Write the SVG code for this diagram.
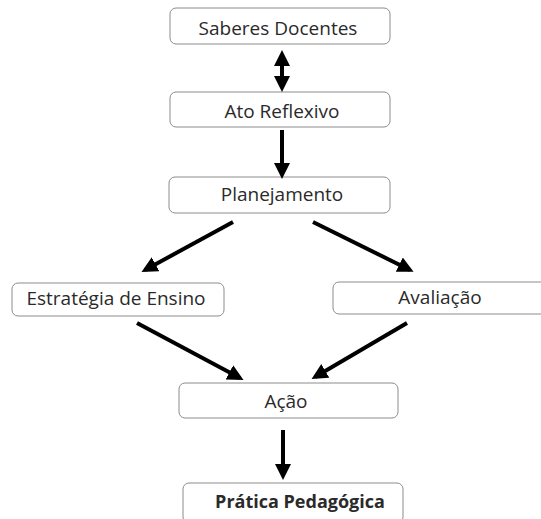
<svg xmlns="http://www.w3.org/2000/svg" width="541" height="519" viewBox="0 0 541 519">
<style>
.box{fill:#fff;stroke:#8c8c8c;stroke-width:1}
.t{font-family:"Open Sans","Liberation Sans",sans-serif;font-size:19px;fill:#2a2a2a;text-anchor:middle}
.b{font-weight:bold;font-size:18px}
.c{stroke:#000;stroke-width:4;fill:none;marker-end:url(#ah)}
</style>
<defs>
<marker id="ah" markerWidth="4" markerHeight="4" refX="3" refY="2" orient="auto" markerUnits="strokeWidth"><path d="M0,0 L4,2 L0,4 Z" fill="#000"/></marker>
<marker id="as" markerWidth="4" markerHeight="4" refX="1" refY="2" orient="auto" markerUnits="strokeWidth"><path d="M4,0 L0,2 L4,4 Z" fill="#000"/></marker>
</defs>
<rect width="541" height="519" fill="#fff"/>
<g id="n1"><rect class="box" x="170" y="8" width="220" height="36" rx="6"/><text class="t" x="278" y="35">Saberes Docentes</text></g>
<g id="n2"><rect class="box" x="170" y="92" width="220" height="35" rx="6"/><text class="t" x="282" y="118">Ato Reflexivo</text></g>
<g id="n3"><rect class="box" x="169" y="177" width="221" height="36" rx="6"/><text class="t" x="282" y="201">Planejamento</text></g>
<g id="n4"><rect class="box" x="12" y="283" width="212" height="33" rx="6"/><text class="t" x="116" y="305">Estratégia de Ensino</text></g>
<g id="n5"><rect class="box" x="333" y="282" width="215" height="32" rx="6"/><text class="t" x="440" y="304">Avaliação</text></g>
<g id="n6"><rect class="box" x="179" y="383" width="219" height="35" rx="6"/><text class="t" x="286" y="408">Ação</text></g>
<g id="n7"><rect class="box" x="183" y="483" width="220" height="40" rx="6"/><text class="t b" x="300" y="508">Prática Pedagógica</text></g>
<g id="connectors">
<line class="c" x1="282" y1="54" x2="282" y2="88" marker-start="url(#as)"/>
<line class="c" x1="282" y1="130" x2="282" y2="175"/>
<line class="c" x1="233" y1="222" x2="145" y2="270"/>
<line class="c" x1="313" y1="222" x2="410" y2="270"/>
<line class="c" x1="137" y1="323" x2="240" y2="378"/>
<line class="c" x1="407" y1="323" x2="315" y2="377"/>
<line class="c" x1="283" y1="430" x2="283" y2="476"/>
</g>
</svg>
